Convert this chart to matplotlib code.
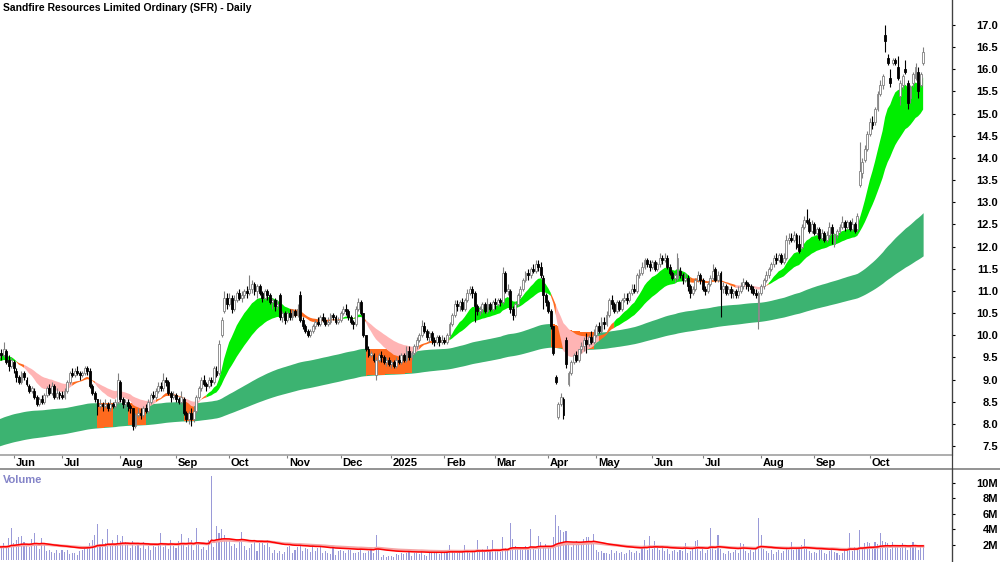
import matplotlib
matplotlib.use("Agg")
import matplotlib.pyplot as plt
import matplotlib.transforms as mtransforms
from matplotlib.lines import Line2D
import numpy as np
import pandas as pd

plt.rcParams['font.family'] = ['Liberation Sans', 'DejaVu Sans']
plt.rcParams['font.weight'] = 'bold'

# ASX trading days shown on the chart
first_day = "2024-05-24"
last_day = "2025-10-30"
holidays = ["2024-06-10", "2024-12-25", "2024-12-26", "2025-01-01", "2025-01-27",
            "2025-04-18", "2025-04-21", "2025-04-25", "2025-06-09"]

# daily OHLC, one line per month
opens = [
    9.50, 9.60, 9.55, 9.65, 9.45, 9.30,
    9.40, 9.20, 9.05, 8.95, 9.15, 9.00, 8.85, 8.75, 8.75, 8.60, 8.45, 8.55, 8.50, 8.65, 8.80, 8.70, 8.85, 8.60, 8.70,
    8.65, 8.60, 8.75, 8.95, 9.15, 9.10, 9.20, 9.15, 9.10, 9.15, 9.25, 9.20, 8.85, 8.70, 8.55, 8.40, 8.45, 8.40, 8.45, 8.35, 8.45, 8.40, 8.50,
    8.95, 8.55, 8.45, 8.50, 8.40, 8.35, 7.95, 8.20, 8.25, 8.20, 8.35, 8.30, 8.50, 8.65, 8.60, 8.75, 8.85, 8.80, 9.00, 8.95, 8.70, 8.60,
    8.65, 8.55, 8.50, 8.55, 8.25, 8.10, 8.25, 8.10, 8.30, 8.60, 8.80, 9.00, 8.90, 8.85, 9.00, 8.95, 9.20, 9.15, 10.00, 10.55, 10.85,
    10.70, 10.85, 10.60, 10.80, 10.95, 10.85, 10.90, 11.00, 10.95, 11.05, 11.15, 11.00, 11.10, 10.95, 10.85, 11.00, 10.90, 10.75, 10.80, 10.65, 10.90, 10.40, 10.50,
    10.35, 10.50, 10.40, 10.55, 10.45, 10.90, 10.35, 10.20, 10.10, 10.00, 10.10, 10.20, 10.30, 10.25, 10.40, 10.35, 10.25, 10.30, 10.45, 10.40, 10.30,
    10.35, 10.50, 10.60, 10.55, 10.40, 10.30, 10.25, 10.60, 10.75, 10.50, 10.00, 9.70, 9.55, 9.55, 9.10, 9.45, 9.55, 9.50, 9.40, 9.45,
    9.35, 9.40, 9.30, 9.45, 9.40, 9.55, 9.45, 9.65, 9.50, 9.60, 9.75, 9.90, 10.00, 10.20, 10.10, 9.95, 10.05, 9.90, 9.85, 9.95, 9.85,
    9.90, 9.85, 10.00, 10.25, 10.45, 10.70, 10.65, 10.75, 10.60, 10.80, 10.95, 11.05, 10.95, 10.65, 10.55, 10.60, 10.70, 10.55, 10.70, 10.60,
    10.75, 10.70, 10.80, 10.75, 11.40, 11.00, 11.00, 10.60, 10.45, 10.70, 10.90, 11.05, 11.25, 11.40, 11.35, 11.50, 11.45, 11.60, 11.55, 11.30, 10.90,
    10.75, 10.55, 10.20, 9.05, 8.15, 8.45, 8.55, 9.90, 8.90, 9.15, 9.40, 9.55, 9.45, 9.70, 9.75, 9.90, 9.80, 9.95, 9.85,
    10.00, 10.20, 10.10, 10.30, 10.25, 10.45, 10.80, 10.70, 10.55, 10.75, 10.60, 10.80, 10.85, 10.80, 10.95, 11.05, 11.00, 11.35, 11.40, 11.55, 11.70, 11.60,
    11.55, 11.65, 11.50, 11.60, 11.75, 11.70, 11.75, 11.55, 11.40, 11.30, 11.30, 11.45, 11.35, 11.25, 11.30, 11.10, 10.95, 11.05, 11.25, 11.35,
    11.25, 11.05, 11.00, 11.15, 11.30, 11.50, 11.25, 11.40, 11.05, 11.10, 10.95, 11.05, 10.95, 11.00, 10.90, 11.00, 11.10, 11.20, 11.15, 11.10, 11.05, 10.95, 10.35,
    10.95, 11.10, 11.25, 11.35, 11.50, 11.60, 11.75, 11.70, 11.80, 11.65, 11.75, 12.15, 12.20, 12.15, 12.25, 12.05, 12.00, 12.45, 12.60, 12.55, 12.35,
    12.50, 12.30, 12.40, 12.20, 12.30, 12.15, 12.25, 12.45, 12.05, 12.25, 12.35, 12.45, 12.55, 12.45, 12.55, 12.40, 12.50, 12.40, 13.40, 13.65, 13.95, 14.20,
    14.55, 14.80, 14.80, 15.10, 15.45, 15.65, 16.78, 16.25, 15.80, 16.15, 16.20, 16.05, 15.40, 15.65, 16.00, 15.70, 15.35, 15.70, 15.80, 15.95, 15.65, 16.15,
]
highs = [
    9.65, 9.70, 9.85, 9.70, 9.55, 9.50,
    9.45, 9.25, 9.10, 9.20, 9.20, 9.05, 8.90, 8.85, 8.80, 8.65, 8.60, 8.65, 8.70, 8.85, 8.90, 8.95, 8.90, 8.80, 8.75,
    8.75, 8.80, 9.00, 9.20, 9.25, 9.25, 9.30, 9.20, 9.20, 9.30, 9.30, 9.25, 8.90, 8.75, 8.55, 8.55, 8.50, 8.55, 8.50, 8.55, 8.50, 8.55, 9.15,
    9.00, 8.60, 8.55, 8.55, 8.45, 8.35, 8.25, 8.35, 8.35, 8.40, 8.45, 8.55, 8.70, 8.75, 8.80, 8.95, 8.95, 9.15, 9.05, 9.00, 8.75, 8.75,
    8.70, 8.60, 8.75, 8.60, 8.30, 8.30, 8.35, 8.40, 8.65, 8.85, 9.05, 9.10, 8.95, 9.05, 9.05, 9.30, 9.30, 9.90, 10.40, 11.00, 10.95,
    10.95, 10.90, 10.90, 11.00, 11.05, 11.00, 11.05, 11.10, 11.35, 11.25, 11.20, 11.15, 11.15, 11.00, 11.05, 11.05, 10.95, 10.85, 10.85, 10.80, 10.95, 10.55, 10.55,
    10.55, 10.60, 10.60, 10.60, 10.70, 11.00, 10.40, 10.25, 10.15, 10.15, 10.25, 10.35, 10.40, 10.45, 10.50, 10.40, 10.40, 10.50, 10.50, 10.45, 10.40,
    10.55, 10.65, 10.70, 10.60, 10.45, 10.35, 10.65, 10.85, 10.80, 10.50, 10.00, 9.75, 9.65, 9.60, 9.50, 9.60, 9.65, 9.55, 9.50, 9.50,
    9.45, 9.45, 9.50, 9.55, 9.60, 9.60, 9.75, 9.75, 9.65, 9.80, 9.95, 10.05, 10.35, 10.30, 10.15, 10.10, 10.10, 9.95, 10.00, 10.00, 10.00,
    9.95, 10.05, 10.30, 10.50, 10.80, 10.80, 10.80, 10.85, 10.85, 11.05, 11.10, 11.10, 11.00, 10.70, 10.65, 10.75, 10.75, 10.85, 10.75, 10.80,
    10.85, 10.85, 10.85, 11.55, 11.45, 11.15, 11.05, 10.65, 10.75, 10.95, 11.10, 11.30, 11.45, 11.50, 11.55, 11.60, 11.70, 11.70, 11.65, 11.35, 10.95,
    10.80, 10.60, 10.20, 9.10, 8.50, 8.70, 8.60, 9.95, 9.20, 9.45, 9.60, 9.65, 9.70, 9.85, 9.95, 10.05, 10.00, 10.10, 10.15,
    10.25, 10.30, 10.40, 10.40, 10.55, 10.85, 10.90, 10.75, 10.80, 10.80, 10.85, 10.95, 10.95, 11.00, 11.15, 11.15, 11.40, 11.50, 11.65, 11.75, 11.75, 11.70,
    11.70, 11.70, 11.65, 11.85, 11.80, 11.85, 11.80, 11.60, 11.45, 11.40, 11.85, 11.55, 11.40, 11.40, 11.35, 11.15, 11.10, 11.30, 11.45, 11.40,
    11.30, 11.10, 11.20, 11.35, 11.60, 11.55, 11.45, 11.45, 11.20, 11.15, 11.10, 11.10, 11.05, 11.05, 11.10, 11.20, 11.30, 11.25, 11.20, 11.15, 11.10, 11.05, 11.00,
    11.15, 11.30, 11.45, 11.55, 11.65, 11.80, 11.85, 11.85, 11.85, 11.85, 12.25, 12.30, 12.30, 12.35, 12.30, 12.25, 12.50, 12.70, 12.85, 12.65, 12.60,
    12.55, 12.45, 12.45, 12.40, 12.35, 12.35, 12.55, 12.50, 12.30, 12.40, 12.50, 12.70, 12.60, 12.60, 12.60, 12.65, 12.55, 12.75, 14.35, 14.00, 14.30, 14.60,
    14.90, 14.95, 15.15, 15.50, 15.75, 15.90, 17.00, 16.35, 16.00, 16.25, 16.25, 16.30, 15.75, 15.90, 16.20, 15.75, 15.65, 15.95, 16.15, 16.05, 15.95, 16.50,
]
lows = [
    9.45, 9.45, 9.50, 9.35, 9.20, 9.25,
    9.15, 8.95, 8.90, 8.90, 9.00, 8.85, 8.70, 8.70, 8.55, 8.40, 8.40, 8.45, 8.45, 8.60, 8.65, 8.65, 8.55, 8.55, 8.55,
    8.55, 8.55, 8.70, 8.90, 9.05, 9.05, 9.10, 9.00, 9.05, 9.10, 9.10, 8.80, 8.65, 8.50, 8.20, 8.35, 8.30, 8.35, 8.30, 8.30, 8.35, 8.35, 8.45,
    8.50, 8.35, 8.35, 8.30, 8.25, 7.85, 7.90, 8.15, 8.10, 8.15, 8.25, 8.25, 8.45, 8.55, 8.55, 8.70, 8.75, 8.75, 8.85, 8.65, 8.50, 8.55,
    8.50, 8.45, 8.45, 8.20, 8.05, 8.00, 7.95, 8.05, 8.25, 8.55, 8.75, 8.85, 8.75, 8.80, 8.85, 8.90, 9.05, 9.10, 9.95, 10.50, 10.60,
    10.65, 10.50, 10.55, 10.75, 10.80, 10.75, 10.85, 10.85, 10.90, 10.95, 10.90, 10.85, 10.90, 10.75, 10.80, 10.80, 10.70, 10.60, 10.55, 10.60, 10.35, 10.30, 10.25,
    10.30, 10.35, 10.35, 10.40, 10.40, 10.30, 10.15, 10.05, 9.95, 9.95, 10.05, 10.15, 10.20, 10.20, 10.30, 10.20, 10.20, 10.25, 10.35, 10.25, 10.25,
    10.30, 10.45, 10.45, 10.35, 10.25, 10.15, 10.20, 10.55, 10.45, 9.95, 9.65, 9.50, 9.50, 9.40, 9.00, 9.40, 9.40, 9.35, 9.30, 9.30,
    9.25, 9.25, 9.25, 9.35, 9.35, 9.40, 9.40, 9.45, 9.45, 9.55, 9.70, 9.85, 9.95, 10.05, 9.90, 9.85, 9.80, 9.75, 9.80, 9.75, 9.80,
    9.80, 9.80, 9.95, 10.20, 10.40, 10.55, 10.55, 10.55, 10.55, 10.75, 10.90, 10.85, 10.30, 10.45, 10.45, 10.50, 10.50, 10.50, 10.55, 10.55,
    10.60, 10.65, 10.65, 10.70, 10.95, 10.90, 10.50, 10.35, 10.40, 10.65, 10.85, 11.00, 11.20, 11.25, 11.30, 11.40, 11.40, 11.45, 11.30, 10.60, 10.65,
    10.50, 10.15, 9.55, 8.90, 8.10, 8.40, 8.10, 9.25, 8.85, 9.10, 9.35, 9.40, 9.40, 9.60, 9.65, 9.60, 9.75, 9.80, 9.80,
    9.95, 10.05, 10.05, 10.15, 10.20, 10.40, 10.60, 10.50, 10.50, 10.55, 10.55, 10.75, 10.70, 10.75, 10.90, 10.95, 10.95, 11.30, 11.35, 11.50, 11.55, 11.45,
    11.50, 11.45, 11.45, 11.55, 11.60, 11.65, 11.50, 11.35, 11.25, 11.20, 11.25, 11.30, 11.15, 11.20, 11.00, 10.85, 10.90, 11.00, 11.20, 11.15,
    11.00, 10.90, 10.95, 11.10, 11.25, 11.20, 11.20, 10.40, 10.95, 10.90, 10.90, 10.85, 10.85, 10.85, 10.85, 10.95, 11.05, 11.05, 11.00, 10.95, 10.90, 10.85, 10.15,
    10.90, 11.05, 11.20, 11.30, 11.45, 11.55, 11.60, 11.65, 11.60, 11.60, 11.70, 12.05, 12.10, 12.10, 11.95, 11.85, 11.95, 12.40, 12.50, 12.30, 12.30,
    12.25, 12.25, 12.15, 12.15, 12.10, 12.10, 12.20, 12.05, 12.00, 12.20, 12.30, 12.40, 12.35, 12.40, 12.35, 12.35, 12.30, 12.35, 13.35, 13.55, 13.90, 14.15,
    14.50, 14.65, 14.75, 15.05, 15.40, 15.55, 16.40, 16.10, 15.60, 16.10, 16.10, 15.75, 15.20, 15.55, 15.90, 15.10, 15.25, 15.60, 15.75, 15.35, 15.60, 16.10,
]
closes = [
    9.60, 9.55, 9.70, 9.40, 9.30, 9.45,
    9.25, 9.05, 8.95, 9.15, 9.05, 8.90, 8.75, 8.80, 8.60, 8.45, 8.55, 8.50, 8.65, 8.80, 8.70, 8.85, 8.60, 8.70, 8.65,
    8.60, 8.75, 8.95, 9.15, 9.10, 9.20, 9.15, 9.10, 9.15, 9.25, 9.20, 8.85, 8.70, 8.55, 8.40, 8.45, 8.40, 8.45, 8.35, 8.45, 8.40, 8.50, 9.00,
    8.55, 8.45, 8.50, 8.40, 8.35, 7.95, 8.20, 8.25, 8.20, 8.35, 8.30, 8.50, 8.65, 8.60, 8.75, 8.85, 8.80, 9.00, 8.95, 8.70, 8.60, 8.65,
    8.55, 8.50, 8.60, 8.25, 8.10, 8.25, 8.10, 8.30, 8.60, 8.80, 9.00, 8.90, 8.85, 9.00, 8.95, 9.25, 9.10, 9.80, 10.35, 10.85, 10.70,
    10.85, 10.60, 10.80, 10.95, 10.85, 10.90, 11.00, 10.95, 11.05, 11.15, 11.00, 11.10, 10.95, 10.85, 11.00, 10.90, 10.75, 10.80, 10.65, 10.70, 10.40, 10.50, 10.35,
    10.50, 10.40, 10.55, 10.45, 10.60, 10.35, 10.20, 10.10, 10.00, 10.10, 10.20, 10.30, 10.25, 10.40, 10.35, 10.25, 10.30, 10.45, 10.40, 10.30, 10.35,
    10.50, 10.60, 10.55, 10.40, 10.30, 10.25, 10.60, 10.75, 10.50, 10.00, 9.70, 9.55, 9.60, 9.45, 9.45, 9.55, 9.50, 9.40, 9.45, 9.35,
    9.40, 9.30, 9.45, 9.40, 9.55, 9.45, 9.65, 9.50, 9.60, 9.75, 9.90, 10.00, 10.20, 10.10, 9.95, 10.05, 9.90, 9.85, 9.95, 9.85, 9.90,
    9.85, 10.00, 10.25, 10.45, 10.70, 10.65, 10.75, 10.60, 10.80, 10.95, 11.05, 10.95, 10.65, 10.55, 10.60, 10.70, 10.55, 10.70, 10.60, 10.75,
    10.70, 10.80, 10.75, 11.40, 11.00, 11.05, 10.60, 10.45, 10.70, 10.90, 11.05, 11.25, 11.40, 11.35, 11.50, 11.45, 11.60, 11.55, 11.35, 10.90, 10.75,
    10.55, 10.20, 9.60, 8.95, 8.45, 8.60, 8.20, 9.35, 9.15, 9.40, 9.55, 9.45, 9.70, 9.75, 9.90, 9.80, 9.95, 9.85, 10.00,
    10.20, 10.10, 10.30, 10.25, 10.45, 10.80, 10.70, 10.55, 10.75, 10.60, 10.80, 10.85, 10.80, 10.95, 11.05, 11.00, 11.35, 11.40, 11.55, 11.70, 11.60, 11.55,
    11.65, 11.50, 11.60, 11.75, 11.70, 11.75, 11.55, 11.40, 11.30, 11.35, 11.75, 11.35, 11.25, 11.30, 11.10, 10.95, 11.05, 11.25, 11.35, 11.25,
    11.05, 11.00, 11.15, 11.30, 11.45, 11.25, 11.35, 11.05, 11.10, 10.95, 11.05, 10.95, 11.00, 10.90, 11.00, 11.10, 11.20, 11.15, 11.10, 11.05, 10.95, 10.90, 10.95,
    11.10, 11.25, 11.35, 11.50, 11.60, 11.75, 11.70, 11.80, 11.65, 11.75, 12.15, 12.20, 12.15, 12.25, 12.00, 11.90, 12.45, 12.60, 12.55, 12.35, 12.50,
    12.30, 12.40, 12.20, 12.30, 12.15, 12.25, 12.45, 12.30, 12.25, 12.35, 12.45, 12.55, 12.45, 12.55, 12.40, 12.50, 12.35, 12.70, 13.70, 13.90, 14.20, 14.55,
    14.80, 14.75, 15.10, 15.45, 15.65, 15.85, 16.65, 16.15, 15.70, 16.20, 16.15, 15.80, 15.70, 15.85, 15.95, 15.25, 15.60, 15.90, 16.05, 15.50, 15.90, 16.40,
]
# daily volume, millions
volume = [
    2.6, 1.8, 2.3, 1.6, 2.9, 4.2,
    2.2, 2.7, 3.0, 3.2, 2.4, 2.0, 1.7, 2.8, 3.5, 2.3, 1.5, 2.9, 2.0, 1.2, 1.3, 1.1, 0.9, 1.4, 1.0,
    1.3, 1.1, 1.4, 0.8, 1.0, 0.9, 0.7, 1.2, 1.3, 1.6, 1.9, 2.2, 2.7, 3.3, 4.7, 2.1, 2.8, 2.3, 4.1, 2.0, 2.6, 1.9, 3.3,
    2.5, 3.2, 2.4, 2.1, 1.6, 2.5, 1.9, 2.3, 1.6, 2.4, 1.5, 1.9, 1.4, 1.9, 1.8, 2.2, 3.6, 1.7, 2.0, 1.5, 2.7, 1.9,
    1.6, 2.5, 3.4, 2.2, 1.8, 2.9, 2.6, 1.3, 4.2, 2.3, 1.5, 1.8, 1.3, 2.6, 10.9, 1.8, 4.4, 3.6, 4.0, 3.3, 2.7,
    2.6, 1.9, 2.1, 1.6, 2.8, 3.7, 1.9, 1.4, 1.6, 2.1, 2.7, 1.2, 2.4, 2.4, 2.0, 2.6, 1.8, 1.0, 1.4, 0.9, 1.2, 0.8, 1.1,
    1.7, 1.9, 0.9, 1.4, 1.7, 2.0, 1.2, 1.6, 1.5, 1.1, 1.9, 1.2, 1.6, 1.8, 1.0, 1.2, 1.0, 0.8, 1.6, 0.7, 1.2,
    1.4, 1.2, 0.9, 1.4, 1.3, 1.0, 0.9, 1.1, 1.8, 1.0, 0.9, 1.2, 1.4, 0.9, 3.3, 1.6, 0.5, 0.7, 0.4, 0.6,
    0.6, 0.4, 0.8, 0.7, 0.9, 0.8, 1.0, 1.2, 0.6, 0.9, 1.0, 0.8, 1.3, 0.7, 0.6, 1.0, 1.1, 0.9, 1.0, 0.8, 1.1,
    1.2, 1.4, 2.0, 1.1, 1.0, 0.9, 1.3, 1.1, 2.0, 1.3, 1.0, 1.4, 1.2, 2.6, 1.1, 1.5, 1.2, 1.9, 1.1, 2.6,
    1.3, 1.5, 1.1, 3.0, 1.6, 1.2, 4.8, 2.8, 1.9, 1.5, 1.7, 1.3, 1.9, 1.4, 4.0, 1.6, 1.4, 3.2, 2.4, 1.7, 2.1,
    1.7, 1.9, 3.0, 5.9, 4.4, 3.9, 3.7, 3.8, 2.1, 1.8, 2.3, 2.5, 2.0, 2.4, 2.8, 3.0, 3.0, 2.2, 3.4,
    1.3, 1.1, 1.2, 0.9, 1.0, 0.8, 1.3, 1.0, 1.2, 0.9, 1.1, 0.8, 1.0, 1.3, 1.1, 0.9, 1.2, 1.0, 1.5, 2.6, 1.4, 3.1,
    1.5, 2.5, 1.7, 1.3, 1.9, 1.2, 1.5, 0.8, 1.2, 1.4, 1.1, 1.3, 1.2, 2.3, 1.0, 1.2, 1.5, 2.5, 2.6, 1.2,
    1.6, 1.0, 1.4, 4.2, 1.7, 1.3, 3.3, 1.5, 1.0, 0.8, 1.2, 0.9, 1.1, 1.3, 1.0, 2.2, 2.1, 1.2, 0.9, 1.4, 1.1, 1.6, 5.5,
    3.3, 1.5, 1.2, 1.0, 1.4, 0.8, 1.1, 1.3, 1.0, 1.2, 1.5, 1.4, 2.4, 1.3, 1.6, 1.7, 2.0, 2.8, 1.5, 1.2, 1.0,
    1.1, 0.9, 1.4, 1.3, 1.0, 0.8, 1.2, 1.6, 1.1, 0.9, 0.7, 1.0, 1.4, 1.2, 3.6, 1.2, 1.8, 1.5, 3.9, 1.6, 2.3, 2.4,
    2.3, 1.7, 2.4, 2.1, 3.5, 2.5, 2.4, 2.2, 1.5, 2.4, 1.8, 2.0, 1.6, 2.2, 1.8, 1.3, 2.0, 2.4, 2.0, 1.3, 1.9, 1.9,
]

# moving-average ribbons: spans and their values on the first bar
short_spans = [12, 16, 22, 30]
short_start = [9.56, 9.50, 9.45, 9.40]
long_spans = [130, 160, 195, 230]
long_start = [8.09, 7.88, 7.68, 7.48]
vol_avg_span = 40
vol_avg_start = 1.7

price_ticks = [7.5, 8.0, 8.5, 9.0, 9.5, 10.0, 10.5, 11.0, 11.5, 12.0, 12.5,
               13.0, 13.5, 14.0, 14.5, 15.0, 15.5, 16.0, 16.5, 17.0]
vol_ticks = [2, 4, 6, 8, 10]


def ema(values, span, start):
    a = 2.0 / (span + 1)
    e = start
    out = []
    for v in values:
        e = e + a * (v - e)
        out.append(e)
    return np.array(out)


o = np.array(opens); h = np.array(highs); l = np.array(lows); c = np.array(closes)
v = np.array(volume)
n = min(len(o), len(h), len(l), len(c), len(v))
o, h, l, c, v = o[:n], h[:n], l[:n], c[:n], v[:n]
x = np.arange(n)

dates = pd.bdate_range(first_day, last_day)
dates = dates[~dates.isin(pd.to_datetime(holidays))][:n]

short = np.array([ema(c, s, st) for s, st in zip(short_spans, short_start)])
s_top, s_bot = short.max(0), short.min(0)
d = np.diff(short, axis=0)
bull = np.all(d < 0, axis=0)
bear = np.all(d > 0, axis=0)
mixed = ~(bull | bear)

longg = np.array([ema(c, s, st) for s, st in zip(long_spans, long_start)])
l_top, l_bot = longg.max(0), longg.min(0)
below = c < l_top


def grow(m):
    g = m.copy()
    g[1:] |= m[:-1]
    return g


fig = plt.figure(figsize=(10, 5.62), dpi=100)
W = 0.952
ax = fig.add_axes([0, 1 - 455 / 562, W, 455 / 562])
axv = fig.add_axes([0, 0, W, 93 / 562])

GREEN = '#00ee00'
PINK = '#ffb4b4'
ORANGE = '#ff6a1e'
DKGREEN = '#3cb371'

# long band
ax.fill_between(x, l_bot, l_top, color=DKGREEN, lw=0, zorder=1)
ax.fill_between(x, l_bot, l_top, where=below, step='mid', color=ORANGE, lw=0, zorder=1.5)
# short band
ax.fill_between(x, s_bot, s_top, where=grow(mixed), color=ORANGE, lw=0, zorder=2)
ax.fill_between(x, s_bot, s_top, where=grow(bear), color=PINK, lw=0, zorder=2.1)
ax.fill_between(x, s_bot, s_top, where=grow(bull), color=GREEN, lw=0, zorder=2.2)

# candles
up = c >= o
ax.vlines(x[up], l[up], h[up], color='#808080', lw=0.8, zorder=3)
ax.vlines(x[~up], l[~up], h[~up], color='black', lw=0.8, zorder=3)
body_up = np.maximum(c - o, 0.02)
body_dn = np.maximum(o - c, 0.02)
ax.bar(x[up], body_up[up], bottom=o[up], width=0.75, color='white',
       edgecolor='#808080', lw=0.6, zorder=4)
ax.bar(x[~up], body_dn[~up], bottom=c[~up], width=0.75, color='black',
       edgecolor='black', lw=0.6, zorder=4)

x0, x1 = 0.52, 376.4
ax.set_xlim(x0, x1)
ax.set_ylim(7.297, 17.564)
ax.yaxis.tick_right()
ax.set_yticks(price_ticks)
ax.set_yticklabels([f"{t:.1f}" for t in price_ticks])
ax.tick_params(axis='y', direction='out', length=2.2, pad=31, labelsize=8, colors='black')
for lab in ax.get_yticklabels():
    lab.set_ha('right')
    lab.set_fontweight('bold')

# month labels
month_start = [i for i in range(1, n) if dates[i].month != dates[i - 1].month]
labels = ['2025' if (dates[i].month == 1) else dates[i].strftime('%b') for i in month_start]
ax.set_xticks(month_start)
ax.set_xticklabels([])
ax.tick_params(axis='x', direction='out', length=2.5, color='#808080')
trans = mtransforms.blended_transform_factory(ax.transData, ax.transAxes)
for i, lab in zip(month_start, labels):
    ax.text(i + 0.6, -0.0185, lab, transform=trans, ha='left', va='center',
            fontsize=8, fontweight='bold', clip_on=False)

for s in ['top', 'left']:
    ax.spines[s].set_visible(False)
ax.spines['right'].set_color('#404040')
ax.spines['bottom'].set_color('#a0a0a0')
ax.spines['bottom'].set_linewidth(1.2)

ax.text(0.003, 0.982, "Sandfire Resources Limited Ordinary (SFR) - Daily",
        transform=ax.transAxes, ha='left', va='center', fontsize=7.5, fontweight='bold')

# volume
axv.bar(x, v, width=0.42, color='#9a9ad8', lw=0, zorder=1)
vma_long = ema(v, vol_avg_span * 1.5, vol_avg_start)
vma = ema(v, vol_avg_span, vol_avg_start)
axv.plot(x, vma_long, color='#f5a5a5', lw=2.0, zorder=2)
axv.plot(x, vma, color='#ff0000', lw=1.1, zorder=3)
axv.set_xlim(x0, x1)
axv.set_ylim(-0.2, 11.8)
axv.set_xticks([])
axv.yaxis.tick_right()
axv.set_yticks(vol_ticks)
axv.set_yticklabels([f"{t}M" for t in vol_ticks])
axv.tick_params(axis='y', direction='out', length=2.2, pad=31, labelsize=8)
for lab in axv.get_yticklabels():
    lab.set_ha('right')
    lab.set_fontweight('bold')
for s in ['top', 'left', 'bottom']:
    axv.spines[s].set_visible(False)
axv.spines['right'].set_color('#404040')
axv.text(0.003, 0.88, "Volume", transform=axv.transAxes, ha='left', va='center',
         fontsize=8, fontweight='bold', color='#8484c8')

# separator between date strip and volume panel
fig.add_artist(Line2D([0, 1], [93 / 562, 93 / 562], color='#808080', lw=1.2))
fig.add_artist(Line2D([W, W], [0, 1], color='#404040', lw=0.9))

fig.savefig("out.png", dpi=100)
